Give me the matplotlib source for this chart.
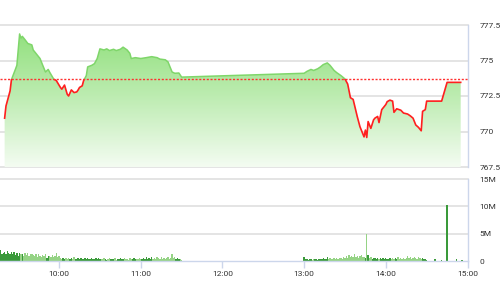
import numpy as np
import matplotlib
matplotlib.use("Agg")
import matplotlib.pyplot as plt
from matplotlib.patches import Rectangle
from matplotlib.colors import LinearSegmentedColormap

# === DONNEES ===
# temps en minutes depuis 9:00
price_t = [20, 21, 23, 24, 25, 28, 29, 31, 32, 33, 35, 37, 40, 41, 44, 46, 48, 50, 52, 53,
           56, 58, 61, 62, 64, 66, 67, 69, 71, 73, 74, 75, 77, 78, 80, 81, 84, 86, 88, 90,
           93, 95, 97, 100, 102, 105, 107, 110, 112, 113, 116, 120, 124, 128, 132, 134, 138, 140, 143, 145,
           148, 150,
           240, 242, 245, 247, 250, 252, 254, 257, 259, 262, 264, 267, 270, 272, 274, 276, 279, 281, 284, 285,
           286, 287, 289, 291, 292, 294, 295, 297, 300, 301, 303, 305, 306, 308, 311, 313, 316, 318, 320, 322,
           324, 326, 327, 329, 330, 341, 345, 355]
price_v = [770.94, 771.8, 772.5, 772.86, 773.65, 774.4, 774.66, 776.87, 776.58, 776.7,
           776.46, 776.2, 776.1, 775.74, 775.38, 775.14, 774.66, 774.19, 774.37, 774.19,
           773.7, 773.58, 773.1, 772.98, 773.27, 772.62, 772.5, 772.93, 772.74, 772.79,
           772.93, 773.1, 773.22, 773.58, 773.94, 774.55, 774.66, 774.78, 775.14, 775.82,
           775.74, 775.82, 775.7, 775.79, 775.7, 775.79, 775.94, 775.74, 775.5, 775.14,
           775.2, 775.14, 775.2, 775.27, 775.2, 775.1, 775.05, 774.9, 774.19, 774.1,
           774.12, 773.83,
           774.1, 774.23, 774.37, 774.3, 774.42, 774.55, 774.71, 774.83, 774.66, 774.3,
           774.14, 773.94, 773.7, 773.34, 772.38, 772.26, 771.06, 770.34, 769.62, 770.1,
           769.58, 770.7, 770.22, 770.82, 770.94, 771.06, 770.63, 771.54, 771.9, 772.1,
           772.21, 772.14, 771.35, 771.6, 771.5, 771.3, 771.23, 771.1, 770.94, 770.46,
           770.29, 770.05, 771.42, 771.54, 772.14, 772.14, 773.46, 773.46]
ref_price = 773.7

# volume (millions) minute par minute, 9:17 -> 11:30
vol_morning = [2.1, 1.2, 1.5, 1.6, 1.3, 1.9, 1.4, 1.2, 1.7,
               1.3, 1.6, 1.1, 1.4, 1.0, 1.5, 1.2, 1.3, 0.9, 1.4, 1.1, 1.5, 1.0, 1.2, 1.3,
               1.1, 0.9, 1.3, 0.8, 1.2, 1.0, 0.7, 1.1, 0.9, 1.2, 0.6, 0.9, 1.0, 0.7, 1.1, 0.8, 0.9, 1.4, 0.7, 1.0,
               0.6, 0.4, 0.5, 0.3, 0.5, 0.4, 0.6, 0.3, 0.5, 0.4, 0.7, 0.3, 0.4, 0.5, 0.3,
               0.6, 0.4, 0.3, 0.5, 0.4, 0.6, 0.3, 0.4, 0.5, 0.3, 0.4, 0.6, 0.3, 0.5, 0.4,
               0.3, 0.4, 0.5, 0.3, 0.2, 0.4, 0.6, 0.3, 0.4, 0.3, 0.5, 0.2, 0.4, 0.3, 0.6,
               0.3, 0.4, 0.5, 0.3, 0.4, 0.2, 0.5, 0.3, 0.4, 0.6, 0.3, 0.4, 0.3, 0.5, 0.4,
               0.3, 0.5, 0.4, 0.7, 0.3, 0.5, 0.4, 0.8, 0.3, 0.6, 0.4, 0.7, 0.5, 0.3, 0.8,
               0.4, 0.6, 0.3, 0.5, 0.7, 0.4, 0.6, 1.3, 0.5, 0.7, 0.3, 0.5, 0.4, 0.3, 0.2]
# 13:00 -> 14:30
vol_afternoon = [0.8, 0.3, 0.4, 0.2, 0.3, 0.3, 0.2, 0.4, 0.3, 0.3, 0.2, 0.3, 0.4, 0.3, 0.5, 0.4,
                 0.3, 0.7, 0.4, 0.5, 0.3, 0.4, 0.5, 0.3, 0.6, 0.4, 0.5, 0.6, 0.4, 0.7, 0.5,
                 1.0, 0.6, 1.1, 0.8, 0.9, 0.7, 1.2, 0.8, 1.0, 0.6, 0.9, 1.1, 0.7, 0.8, 0.6,
                 5.0,
                 1.1, 0.5, 0.7, 0.4, 0.6, 0.5, 0.4, 0.5, 0.3, 0.6, 0.4, 0.5, 0.4, 0.5,
                 0.4, 0.3, 0.5, 0.4, 0.6, 0.3, 0.5, 0.4, 0.7, 0.4, 0.5, 0.3, 0.6, 0.4, 0.5,
                 0.9, 0.5, 0.7, 0.4, 0.6, 0.8, 0.5, 0.4, 0.7, 0.5, 0.3, 0.6, 0.4, 0.3, 0.2]
# bougies isolees apres 14:30
vol_late_t = [336, 341, 345, 352, 356]
vol_late = [0.3, 0.2, 10.2, 0.3, 0.2]

price_ticks = [767.5, 770, 772.5, 775, 777.5]
price_labels = ["767.5", "770", "772.5", "775", "777.5"]
vol_ticks = [0, 5, 10, 15]
vol_labels = ["0", "5M", "10M", "15M"]
time_ticks = [60, 120, 180, 240, 300, 360]
time_labels = ["10:00", "11:00", "12:00", "13:00", "14:00", "15:00"]

# === STYLE ===
plt.rcParams['font.family'] = ['Roboto', 'DejaVu Sans']
TXT = '#333333'
GRID = '#dddddd'
AXIS = '#ccd6eb'
XMIN, XMAX = 16.6, 360

fig = plt.figure(figsize=(5.01, 3.0), dpi=100)
ax = fig.add_axes([0.0, 1 - 167 / 300, 467.5 / 501, 142 / 300])
axv = fig.add_axes([0.0, 1 - 261 / 300, 467.5 / 501, 82 / 300])

t = np.array(price_t, dtype=float)
p = np.array(price_v)

# --- graphe prix ---
ax.set_xlim(XMIN, XMAX)
ax.set_ylim(767.5, 777.5)
for y in price_ticks:
    ax.axhline(y, color=GRID, lw=1.1, zorder=0, clip_on=False)

cmap = LinearSegmentedColormap.from_list('g', ['#f4fcf2', '#bdecb1', '#8ddf78'])
grad = np.linspace(0, 1, 256).reshape(-1, 1)
im = ax.imshow(grad, extent=[XMIN, XMAX, 767.5, 777.5], origin='lower',
               aspect='auto', cmap=cmap, zorder=1)
poly = ax.fill_between(t, p, 767.5, facecolor='none', edgecolor='none')
im.set_clip_path(poly.get_paths()[0], transform=ax.transData)

up = ax.plot(t, p, color='#7fd66a', lw=1.1, zorder=3)[0]
up.set_clip_path(Rectangle((XMIN, ref_price), XMAX - XMIN, 10, transform=ax.transData))
dn = ax.plot(t, p, color='#ff1f1f', lw=1.2, zorder=3)[0]
dn.set_clip_path(Rectangle((XMIN, 760), XMAX - XMIN, ref_price - 760, transform=ax.transData))

ax.axhline(ref_price, color='#ff3030', lw=1.0, ls=(0, (1.5, 1.2)), zorder=4)

ax.yaxis.tick_right()
ax.set_yticks(price_ticks)
ax.set_yticklabels(price_labels)
ax.tick_params(axis='y', length=0, pad=8.5, labelsize=6, labelcolor=TXT)
ax.set_xticks([])
for s in ['top', 'left', 'bottom']:
    ax.spines[s].set_visible(False)
ax.spines['right'].set_color(AXIS)
ax.spines['right'].set_linewidth(1.0)

# --- graphe volume ---
vt = list(range(17, 17 + len(vol_morning))) + list(range(240, 240 + len(vol_afternoon))) + vol_late_t
vv = vol_morning + vol_afternoon + vol_late
vt = np.array(vt, dtype=float)
# couleur selon la variation du prix
p_now = np.interp(vt, t, p)
p_prev = np.interp(vt - 1, t, p)
colors = ['#3a9a3a' if a >= b else '#95d385' for a, b in zip(p_now, p_prev)]

axv.set_xlim(XMIN, XMAX)
axv.set_ylim(0, 15)
for y in vol_ticks[1:]:
    axv.axhline(y, color=GRID, lw=1.1, zorder=0, clip_on=False)
axv.bar(vt, vv, width=1.0, color=colors, linewidth=0, zorder=2)

axv.yaxis.tick_right()
axv.set_yticks(vol_ticks)
axv.set_yticklabels(vol_labels)
axv.tick_params(axis='y', length=0, pad=8.5, labelsize=6, labelcolor=TXT)
axv.set_xticks(time_ticks)
axv.set_xticklabels(time_labels)
axv.tick_params(axis='x', length=5, width=1, color=AXIS, pad=2, labelsize=6, labelcolor=TXT)
for s in ['top', 'left']:
    axv.spines[s].set_visible(False)
for s in ['right', 'bottom']:
    axv.spines[s].set_color(AXIS)
    axv.spines[s].set_linewidth(1.0)

plt.savefig("out.png", dpi=100)
plt.close()
